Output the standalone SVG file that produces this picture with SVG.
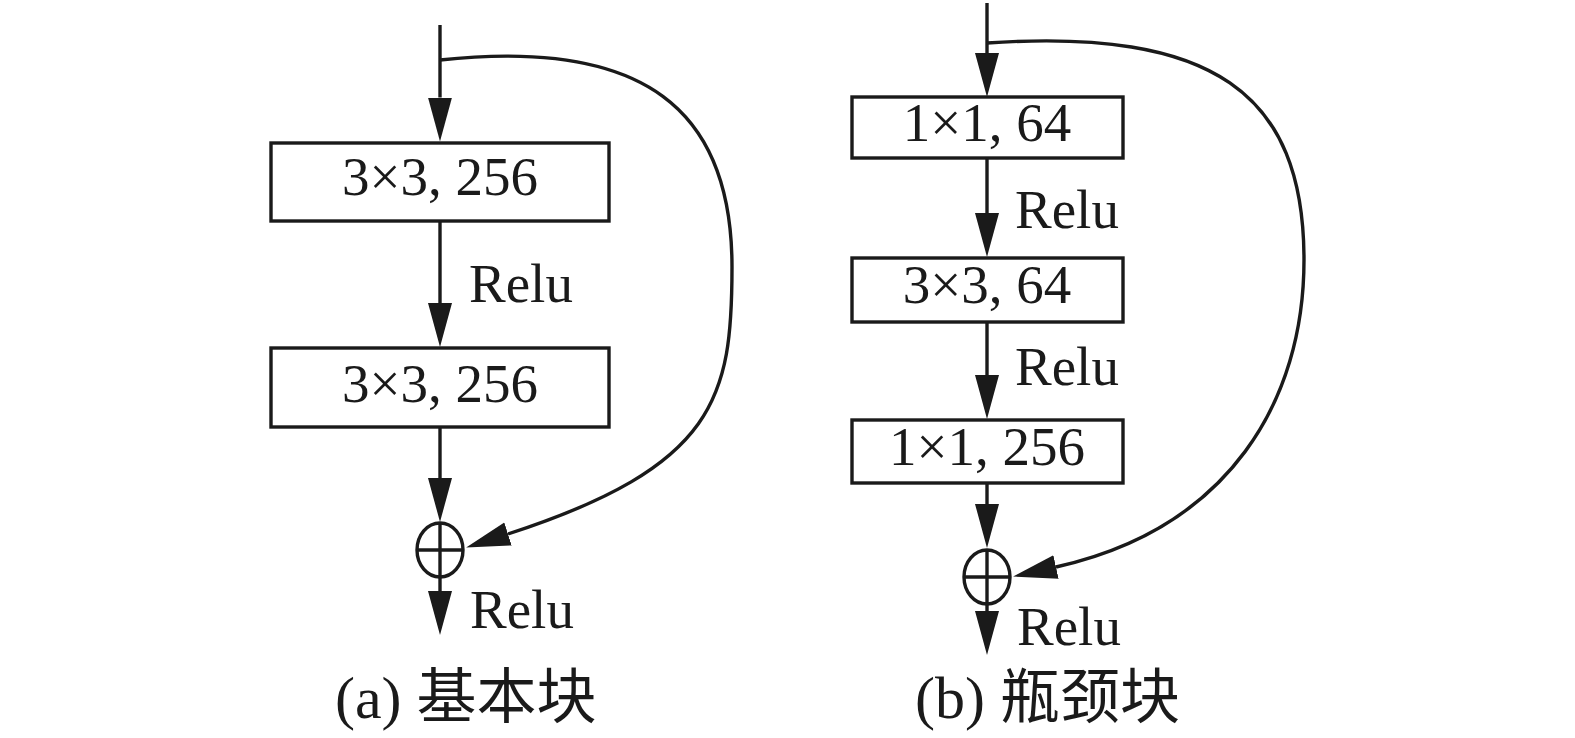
<svg xmlns="http://www.w3.org/2000/svg" width="1575" height="738" viewBox="0 0 1575 738">
<style>
  .box { fill: #ffffff; stroke: #1a1a1a; stroke-width: 3.4; }
  .ln { fill: none; stroke: #1a1a1a; stroke-width: 3.4; }
  .t { font-family: "Liberation Serif", "Times New Roman", serif; font-size: 55px; fill: #1a1a1a; }
  .c { text-anchor: middle; }
  .cap { font-family: "Liberation Serif", "Noto Sans CJK SC", serif; font-size: 60px; fill: #1a1a1a; }
</style>
<defs>
  <marker id="ah" markerUnits="userSpaceOnUse" markerWidth="50" markerHeight="30" viewBox="0 -15 50 30" refX="0" refY="0" orient="auto">
    <path d="M0,-12 L44,0 L0,12 Z" fill="#1a1a1a"/>
  </marker>
</defs>
<rect width="1575" height="738" fill="#ffffff"/>

<g id="connectors">
  <!-- (a) basic block -->
  <path class="ln" d="M440,25 V97.5" marker-end="url(#ah)"/>
  <path class="ln" d="M440,221 V303" marker-end="url(#ah)"/>
  <path class="ln" d="M440,427 V478" marker-end="url(#ah)"/>
  <path class="ln" d="M440,522 V591" marker-end="url(#ah)"/>
  <path class="ln" d="M440,60 C645,38 732,110 732,267 C732,397 717,466 508,534" marker-end="url(#ah)"/>
  <!-- (b) bottleneck block -->
  <path class="ln" d="M987,3 V53" marker-end="url(#ah)"/>
  <path class="ln" d="M987,158 V213" marker-end="url(#ah)"/>
  <path class="ln" d="M987,322 V375" marker-end="url(#ah)"/>
  <path class="ln" d="M987,483 V504" marker-end="url(#ah)"/>
  <path class="ln" d="M987,549 V611" marker-end="url(#ah)"/>
  <path class="ln" d="M987,43 C1212,28 1304,92 1304,260 C1304,400 1230,528 1056,567" marker-end="url(#ah)"/>
</g>

<g id="a-conv1">
  <rect class="box" x="271" y="143" width="338" height="78"/>
  <text class="t c" x="440" y="195">3×3, 256</text>
</g>
<g id="a-conv2">
  <rect class="box" x="271" y="348" width="338" height="79"/>
  <text class="t c" x="440" y="402">3×3, 256</text>
</g>
<g id="a-add">
  <ellipse class="ln" cx="440" cy="550" rx="23" ry="27"/>
  <path class="ln" d="M417,550 H463"/>
</g>
<g id="a-labels">
  <text class="t" x="469" y="302">Relu</text>
  <text class="t" x="470" y="628">Relu</text>
  <text class="cap" x="335" y="718">(a) 基本块</text>
</g>

<g id="b-conv1">
  <rect class="box" x="852" y="97" width="271" height="61"/>
  <text class="t c" x="987" y="141">1×1, 64</text>
</g>
<g id="b-conv2">
  <rect class="box" x="852" y="258" width="271" height="64"/>
  <text class="t c" x="987" y="303">3×3, 64</text>
</g>
<g id="b-conv3">
  <rect class="box" x="852" y="420" width="271" height="63"/>
  <text class="t c" x="987" y="465">1×1, 256</text>
</g>
<g id="b-add">
  <ellipse class="ln" cx="987" cy="577" rx="23" ry="27"/>
  <path class="ln" d="M964,577 H1010"/>
</g>
<g id="b-labels">
  <text class="t" x="1015" y="228">Relu</text>
  <text class="t" x="1015" y="385">Relu</text>
  <text class="t" x="1017" y="645">Relu</text>
  <text class="cap" x="915" y="718">(b) 瓶颈块</text>
</g>
</svg>
